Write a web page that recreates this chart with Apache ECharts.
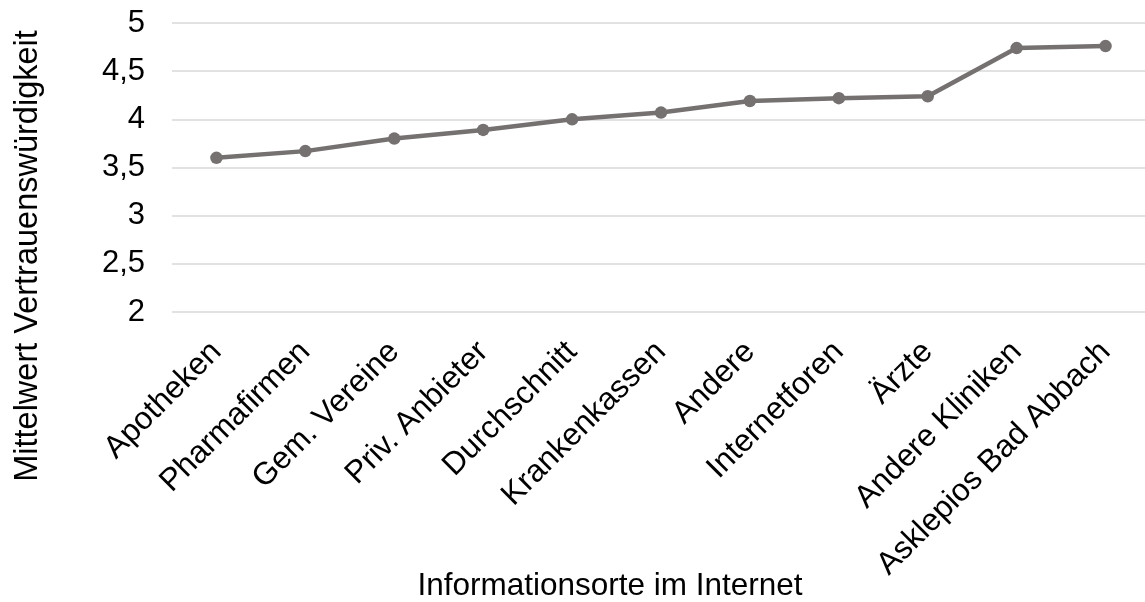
<!DOCTYPE html>
<html>
<head>
<meta charset="utf-8">
<script src="https://cdn.jsdelivr.net/npm/echarts@6/dist/echarts.min.js"></script>
<style>
  html, body { margin: 0; padding: 0; background: #ffffff; }
  #chart { width: 1145px; height: 602px; }
</style>
</head>
<body>
<div id="chart"></div>
<script>
// Information sources on the internet and their mean trust rating
const categories = [
  'Apotheken', 'Pharmafirmen', 'Gem. Vereine', 'Priv. Anbieter', 'Durchschnitt',
  'Krankenkassen', 'Andere', 'Internetforen', 'Ärzte', 'Andere Kliniken',
  'Asklepios Bad Abbach'
];
const trustValues = [3.60, 3.67, 3.80, 3.89, 4.00, 4.07, 4.19, 4.22, 4.24, 4.74, 4.76];

const yMin = 2;
const yMax = 5;
const yStep = 0.5;

const xTitle = 'Informationsorte im Internet';
const yTitle = 'Mittelwert Vertrauenswürdigkeit';

const FONT = "'Liberation Sans', Arial, sans-serif";
const LINE_COLOR = '#767171';

const chart = echarts.init(document.getElementById('chart'), null, { renderer: 'canvas' });

chart.setOption({
  backgroundColor: '#ffffff',
  animation: false,
  grid: {
    left: 172,
    top: 23,
    width: 978,
    height: 289,
    containLabel: false,
    outerBoundsMode: 'none'
  },
  xAxis: {
    type: 'category',
    data: categories,
    boundaryGap: true,
    axisLine: { show: false },
    axisTick: { show: false },
    axisLabel: {
      rotate: 45,
      interval: 0,
      margin: 35,
      color: '#000000',
      fontFamily: FONT,
      fontSize: 31.5
    }
  },
  yAxis: {
    type: 'value',
    min: yMin,
    max: yMax,
    interval: yStep,
    axisLine: { show: false },
    axisTick: { show: false },
    axisLabel: {
      margin: 27,
      color: '#000000',
      fontFamily: FONT,
      fontSize: 31,
      formatter: v => String(v).replace('.', ',')
    },
    splitLine: { lineStyle: { color: '#d9d9d9', width: 1.5 } }
  },
  graphic: [
    {
      type: 'text',
      x: 610,
      y: 586,
      style: {
        text: xTitle,
        fill: '#000000',
        font: '31.5px ' + FONT,
        textAlign: 'center',
        textVerticalAlign: 'middle'
      }
    },
    {
      type: 'text',
      x: 28,
      y: 256,
      rotation: Math.PI / 2,
      style: {
        text: yTitle,
        fill: '#000000',
        font: '32.5px ' + FONT,
        textAlign: 'center',
        textVerticalAlign: 'middle'
      }
    }
  ],
  series: [
    {
      type: 'line',
      data: trustValues,
      symbol: 'circle',
      symbolSize: 12.5,
      lineStyle: { color: LINE_COLOR, width: 4.5 },
      itemStyle: { color: LINE_COLOR }
    }
  ]
});
</script>
</body>
</html>
